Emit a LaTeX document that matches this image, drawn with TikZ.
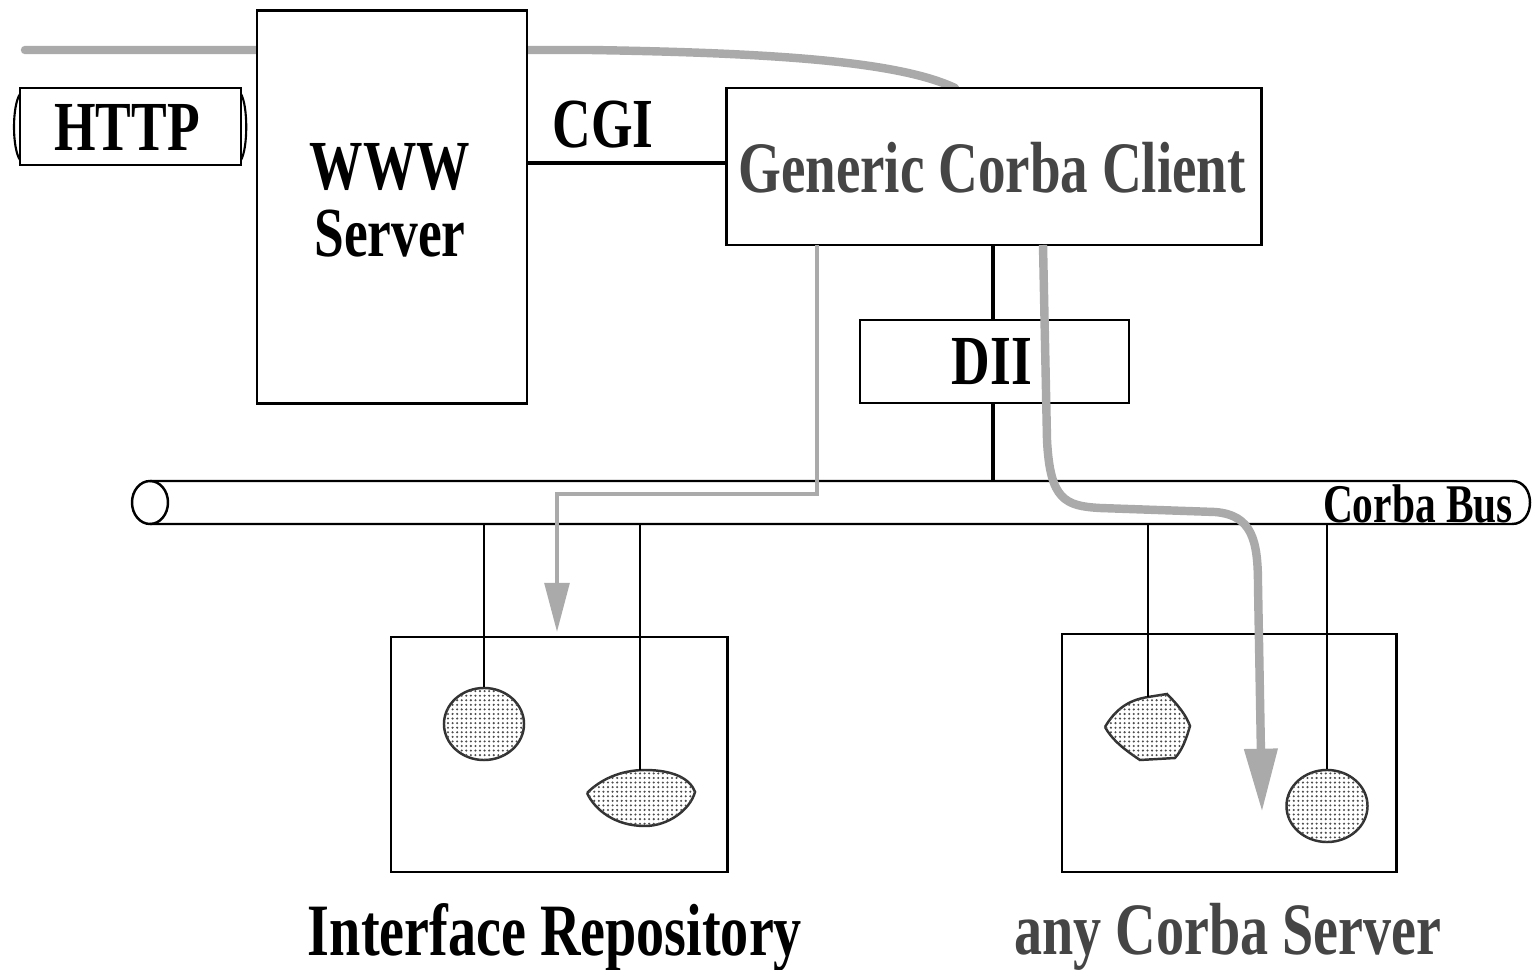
\documentclass[tikz,border=0pt]{standalone}
\usepackage{fontspec}
\newfontfamily\cond{Liberation Serif}[FakeStretch=0.76]
\usetikzlibrary{arrows.meta,shapes.geometric,patterns.meta}
\definecolor{flow}{HTML}{AAAAAA}
\definecolor{dtext}{HTML}{454545}
\tikzset{
  box/.style={draw=black,line width=0.8pt,fill=white,inner sep=0pt},
  lbl/.style={font=\cond\bfseries\fontsize{20}{22}\selectfont,inner sep=0pt},
  link/.style={draw=black,line width=0.6pt},
  blob/.style={draw=black!80,line width=0.7pt,fill=white,
    postaction={pattern={Dots[distance=1.3pt,radius=0.33pt]},pattern color=black!70}},
  flowthin/.style={draw=flow,line width=1.2pt},
  flowthick/.style={draw=flow,line width=2.4pt}
}
\begin{document}
\begin{tikzpicture}[x=0.01cm,y=-0.01cm]
\useasboundingbox (0,0) rectangle (1533,970);
% top grey flow line (behind WWW server)
\coordinate (flowstart) at (25,50);
\draw[flowthick,line cap=round] (flowstart) -- (590,50) .. controls (780,53) and (900,62) .. (955,88);
% HTTP tube
\node[box,minimum width=2.21cm,minimum height=0.77cm] (http) at (130.5,126.5) {};
\draw[line width=0.6pt] (20,94) .. controls (12,106) and (12,148) .. (20,160);
\draw[line width=0.6pt] (241,94) .. controls (248,106) and (248,148) .. (241,160);
\node[lbl] (httpt) at (127,127) {HTTP};
% WWW server
\node[box,minimum width=2.70cm,minimum height=3.92cm] (www) at (392,207) {};
\node[lbl,align=center] (wwwt) at (390,200) {WWW\\[-3pt]Server};
% Generic Corba Client
\node[box,minimum width=5.34cm,minimum height=1.57cm] (client) at (994,166.5) {};
\node[lbl,text=dtext,font=\cond\bfseries\fontsize{20.6}{22}\selectfont] (clientt) at (992,168) {Generic Corba Client};
% CGI link
\draw[line width=1.1pt] (www.east |- 0,163) -- (client.west |- 0,163);
\node[lbl] (cgi) at (603,125) {CGI};
% bus
\coordinate (busL) at (150,481);
\coordinate (busR) at (1512,481);
\draw[line width=0.7pt] (busL) -- (busR) .. controls (1536,481) and (1536,524) .. (1512,524) -- (150,524);
\draw[line width=0.7pt] (150,502.5) ellipse[x radius=18,y radius=21.5];
\node[font=\cond\bfseries\fontsize{15.5}{16}\selectfont,inner sep=0pt] (bust) at (1418,504) {Corba Bus};
% DII
\coordinate (clientbot) at (993,245);
\coordinate (busdii) at (993,481);
\draw[line width=1.1pt] (clientbot) -- (busdii);
\node[box,minimum width=2.69cm,minimum height=0.83cm] (dii) at (994.5,361.5) {};
\node[lbl] (diit) at (992,362) {DII};
% Interface repository
\node[box,minimum width=3.36cm,minimum height=2.35cm] (ir) at (559,754.5) {};
\node[blob,ellipse,minimum width=0.80cm,minimum height=0.72cm] (ir1) at (484,724) {};
\draw[blob] (587,793) .. controls (600,780) and (620,770) .. (645,770)
  .. controls (672,770) and (690,778) .. (695,792)
  .. controls (690,810) and (668,826) .. (645,826)
  .. controls (615,826) and (595,810) .. (587,793);
\coordinate (ir2) at (640,770);
\node[lbl,font=\cond\bfseries\fontsize{21}{22}\selectfont] (irt) at (555,937) {Interface Repository};
% any Corba server
\node[box,minimum width=3.34cm,minimum height=2.38cm] (srv) at (1229,753) {};
\draw[blob] (1105,727) .. controls (1115,710) and (1128,700) .. (1148,697)
  -- (1167,694) .. controls (1178,705) and (1186,715) .. (1190,726)
  .. controls (1186,740) and (1182,750) .. (1175,758)
  -- (1140,760) .. controls (1125,750) and (1112,740) .. (1105,727);
\coordinate (srv1) at (1148,697);
\node[blob,ellipse,minimum width=0.81cm,minimum height=0.72cm] (srv2) at (1327,806) {};
\node[lbl,text=dtext,font=\cond\bfseries\fontsize{21}{22}\selectfont] (srvt) at (1228,937) {any Corba Server};
% bus drops
\draw[link] (484,524) -- (ir1.north);
\draw[link] (640,524) -- (ir2);
\draw[link] (1148,524) -- (srv1);
\draw[link] (1327,524) -- (srv2.north);
% grey flows
\coordinate (irin) at (557,632);
\draw[flowthin,-{Triangle[length=14pt,width=7pt]}] (817,245) -- (817,494) -- (557,494) -- (irin);
\coordinate (srvin) at (1262,812);
\draw[flowthick,-{Triangle[length=18pt,width=9pt]}] (1043,245) -- (1047,440)
  .. controls (1050,500) and (1065,506) .. (1100,508) -- (1215,512)
  .. controls (1252,515) and (1258,540) .. (1258,585) -- (srvin);
\end{tikzpicture}
\end{document}
